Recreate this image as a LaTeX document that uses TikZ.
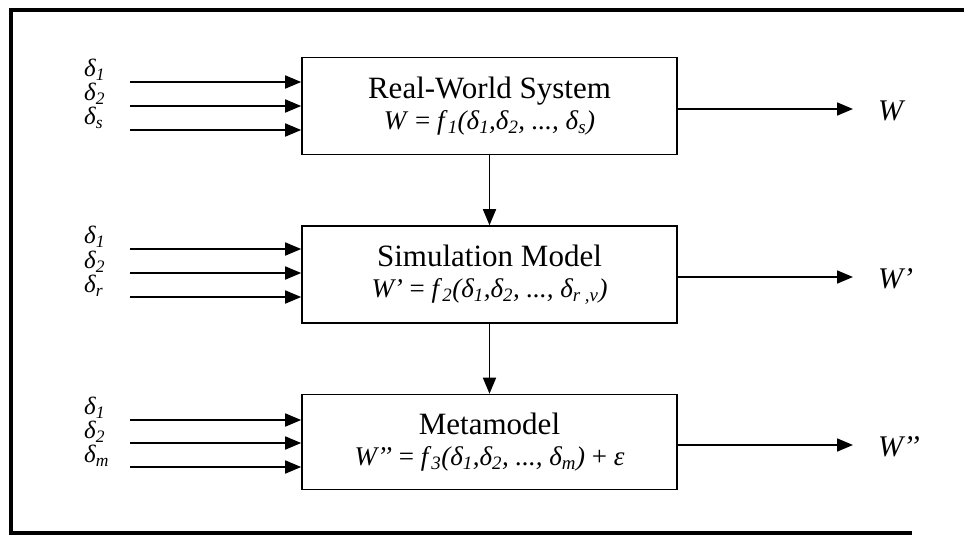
\documentclass[tikz,border=0pt]{standalone}
\usepackage{fontspec}
\setmainfont{Liberation Serif}
\usetikzlibrary{arrows.meta}

% italic subscript
\newcommand{\isb}[1]{\textsubscript{\itshape #1}}
% size of the formula line inside a block
\newcommand{\fml}{\fontsize{27}{31}\selectfont}

\tikzset{
  block/.style={draw, line width=1.6pt, minimum width=375pt, minimum height=97pt,
    align=center, inner sep=0pt, font=\fontsize{31}{31}\selectfont},
  flow/.style={line width=1.7pt, -{Triangle[length=16pt,width=13pt]}},
  inlab/.style={anchor=west, inner sep=0pt, font=\fontsize{25}{27}\selectfont\itshape},
  outlab/.style={anchor=west, inner sep=0pt, font=\fontsize{30}{32}\selectfont\itshape},
  frame/.style={line width=4pt},
}

\begin{document}
\begin{tikzpicture}[x=1pt,y=-1pt]
\useasboundingbox (0,0) rectangle (964,544);

% open frame (no right side)
\draw[frame] (964,10) -- (11,10) -- (11,533) -- (912,533);

% the three blocks
\node[block] (rw) at (489.5,106)
  {Real-World System\\
   {\fml\textit{W} = \textit{f}\isb{1}\textit{(δ\isb{1},δ\isb{2}, ..., δ\isb{s})}}};
\node[block] (sm) at (489.5,274.5)
  {Simulation Model\\
   {\fml\textit{W’} = \textit{f}\isb{2}\textit{(δ\isb{1},δ\isb{2}, ..., δ\isb{r ,v})}}};
\node[block, minimum height=95pt] (mm) at (489.5,442)
  {Metamodel\\
   {\fml\textit{W’’} = \textit{f}\isb{3}\textit{(δ\isb{1},δ\isb{2}, ..., δ\isb{m})} + \textit{ε}}};

% inputs of the real-world system
\node[inlab] (a1) at (84,70)  {δ\isb{1}};
\node[inlab] (a2) at (84,94)  {δ\isb{2}};
\node[inlab] (a3) at (84,118) {δ\isb{s}};
\coordinate (ia1) at (130,82);
\coordinate (ia2) at (130,106);
\coordinate (ia3) at (130,130);
\foreach \i in {1,2,3} \draw[flow] (ia\i) -- (ia\i -| rw.west);

% inputs of the simulation model
\node[inlab] (b1) at (84,237) {δ\isb{1}};
\node[inlab] (b2) at (84,262) {δ\isb{2}};
\node[inlab] (b3) at (84,286) {δ\isb{r}};
\coordinate (ib1) at (130,249);
\coordinate (ib2) at (130,273);
\coordinate (ib3) at (130,297);
\foreach \i in {1,2,3} \draw[flow] (ib\i) -- (ib\i -| sm.west);

% inputs of the metamodel
\node[inlab] (c1) at (84,408) {δ\isb{1}};
\node[inlab] (c2) at (84,432) {δ\isb{2}};
\node[inlab] (c3) at (84,456) {δ\isb{m}};
\coordinate (ic1) at (130,420);
\coordinate (ic2) at (130,443);
\coordinate (ic3) at (130,467);
\foreach \i in {1,2,3} \draw[flow] (ic\i) -- (ic\i -| mm.west);

% outputs
\coordinate (o1) at (853,109);
\coordinate (o2) at (853,277);
\coordinate (o3) at (853,445);
\draw[flow] (o1 -| rw.east) -- (o1);
\draw[flow] (o2 -| sm.east) -- (o2);
\draw[flow] (o3 -| mm.east) -- (o3);
\node[outlab] (w1) at (878,111) {W};
\node[outlab] (w2) at (878,279) {W’};
\node[outlab] (w3) at (878,447) {W’’};

% chain between the blocks
\draw[flow] (rw) -- (sm);
\draw[flow] (sm) -- (mm);
\end{tikzpicture}
\end{document}
